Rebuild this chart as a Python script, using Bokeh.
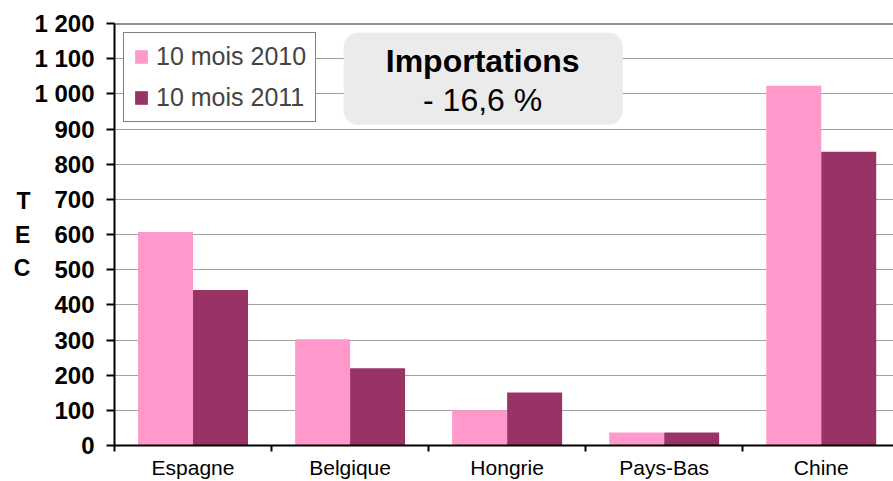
import numpy as np
from bokeh.plotting import figure
from bokeh.models import (Range1d, FixedTicker, Span, BoxAnnotation, Label, Legend)
from bokeh.embed import file_html
from bokeh.resources import INLINE

# ---- data ----
categories = ["Espagne", "Belgique", "Hongrie", "Pays-Bas", "Chine"]
series_names = ["10 mois 2010", "10 mois 2011"]
values_2010 = [607, 302, 100, 37, 1023]
values_2011 = [442, 220, 151, 37, 835]
y_ticks = [0, 100, 200, 300, 400, 500, 600, 700, 800, 900, 1000, 1100, 1200]
y_tick_labels = ["0", "100", "200", "300", "400", "500", "600", "700", "800",
                 "900", "1 000", "1 100", "1 200"]
box_title = "Importations"
box_value = "- 16,6 %"
y_axis_title = "T\nE\nC"

FONT = "Liberation Sans"
PINK = "#FF99CC"
PLUM = "#993366"

n = len(categories)
idx = np.arange(n)
centers = idx + 0.5
bar_w = 0.35

p = figure(width=893, height=481, output_backend="svg", toolbar_location=None,
           x_range=Range1d(0, 4.96), y_range=Range1d(0, 1200),
           min_border_left=114, min_border_right=0, min_border_top=23,
           min_border_bottom=36, background_fill_color="white",
           border_fill_color="white")
p.outline_line_color = None

r1 = p.vbar(x=centers - bar_w / 2, top=values_2010, width=bar_w, bottom=0,
            fill_color=PINK, line_color=None)
r2 = p.vbar(x=centers + bar_w / 2, top=values_2011, width=bar_w, bottom=0,
            fill_color=PLUM, line_color=None)

# grid
p.xgrid.grid_line_color = None
p.ygrid.ticker = FixedTicker(ticks=y_ticks)
p.ygrid.grid_line_color = "#A0A0A0"
p.ygrid.grid_line_width = 1

# top border
p.add_layout(Span(location=y_ticks[-1], dimension="width", line_color="#202020",
                  line_width=2))

# y axis
ya = p.yaxis[0]
ya.ticker = FixedTicker(ticks=y_ticks)
ya.major_label_overrides = {t: l for t, l in zip(y_ticks, y_tick_labels)}
ya.major_label_text_font = FONT
ya.major_label_text_font_style = "bold"
ya.major_label_text_font_size = "24px"
ya.major_label_text_color = "black"
ya.major_label_standoff = 12
ya.axis_line_color = "black"
ya.axis_line_width = 2
ya.major_tick_line_color = "black"
ya.major_tick_line_width = 2
ya.major_tick_out = 8
ya.major_tick_in = 0
ya.minor_tick_line_color = None
ya.axis_label = y_axis_title
ya.axis_label_orientation = "horizontal"
ya.axis_label_text_font = FONT
ya.axis_label_text_font_style = "bold"
ya.axis_label_text_font_size = "23px"
ya.axis_label_text_color = "black"
ya.axis_label_text_line_height = 1.3
ya.axis_label_standoff = 1

# x axis
xa = p.xaxis[0]
xa.ticker = FixedTicker(ticks=list(centers), minor_ticks=list(idx) + [n])
xa.major_label_overrides = {float(c): cat for c, cat in zip(centers, categories)}
xa.major_label_text_font = FONT
xa.major_label_text_font_size = "21px"
xa.major_label_text_color = "black"
xa.major_label_standoff = 4
xa.axis_line_color = "black"
xa.axis_line_width = 2
xa.major_tick_line_color = None
xa.major_tick_out = 5
xa.major_tick_in = 0
xa.minor_tick_line_color = "black"
xa.minor_tick_line_width = 2
xa.minor_tick_out = 6
xa.minor_tick_in = 0

# legend
legend = Legend(items=[(series_names[0], [r1]), (series_names[1], [r2])],
                location="top_left", margin=9, padding=9, spacing=12,
                glyph_width=16, glyph_height=17, label_height=26,
                label_standoff=7, border_line_color="black", border_line_width=1,
                label_text_font=FONT, label_text_font_size="25px",
                background_fill_color="white", background_fill_alpha=1.0)
p.add_layout(legend)

# annotation box
box = BoxAnnotation(left=1.459, right=3.236, bottom=912, top=1174,
                    fill_color="#EBEBEB", fill_alpha=1.0, line_color=None,
                    border_radius=14, level="annotation")
p.add_layout(box)
p.add_layout(Label(x=2.344, y=1092, text=box_title, text_align="center",
                   text_baseline="middle", text_font=FONT,
                   text_font_style="bold", text_font_size="32px",
                   text_color="black"))
p.add_layout(Label(x=2.344, y=983, text=box_value, text_align="center",
                   text_baseline="middle", text_font=FONT,
                   text_font_size="32px", text_color="black"))

open("out.html", "w").write(file_html(p, INLINE))
